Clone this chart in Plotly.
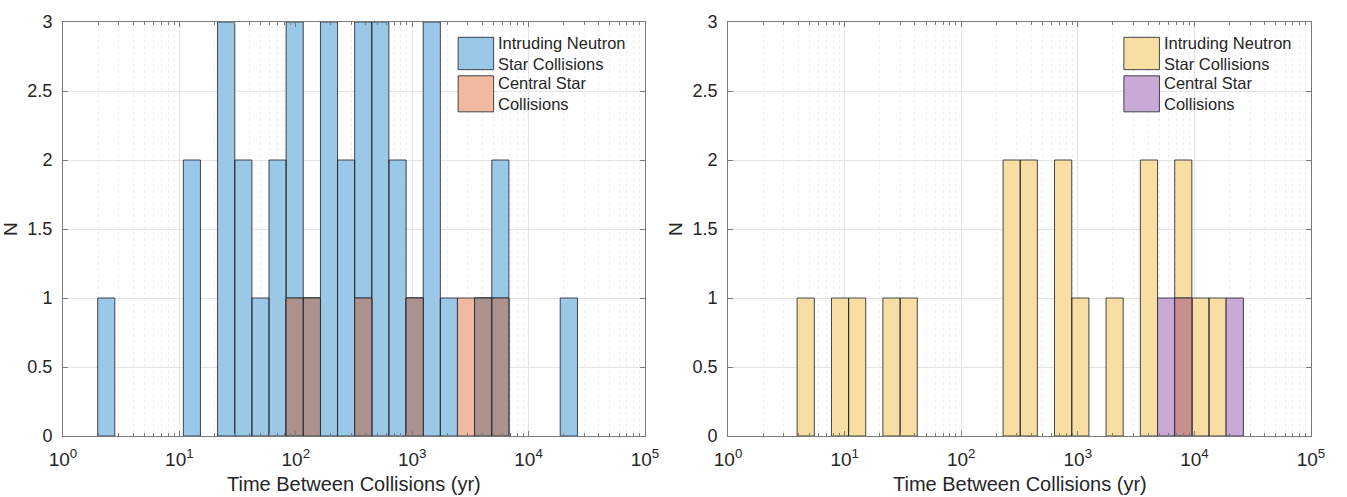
import plotly.graph_objects as go

# Histogram bin edges (log10 of time in yr), shared by both panels
BIN_EDGES_LOG10 = [0.298, 0.445, 0.592, 0.740, 0.887, 1.034, 1.181, 1.328, 1.476, 1.623,
                   1.770, 1.917, 2.064, 2.212, 2.359, 2.506, 2.653, 2.800, 2.948, 3.095,
                   3.242, 3.389, 3.536, 3.684, 3.831, 3.978, 4.125, 4.272, 4.420]

# Counts per bin (28 bins)
left_intruding = [1, 0, 0, 0, 0, 2, 0, 3, 2, 1, 2, 3, 1, 3, 2, 3, 3, 2, 1, 3, 1, 0, 1, 2, 0, 0, 0, 1]
left_central   = [0, 0, 0, 0, 0, 0, 0, 0, 0, 0, 0, 1, 1, 0, 0, 1, 0, 0, 1, 0, 0, 1, 1, 1, 0, 0, 0, 0]
right_intruding = [0, 0, 1, 0, 1, 1, 0, 1, 1, 0, 0, 0, 0, 0, 2, 2, 0, 2, 1, 0, 1, 0, 2, 0, 2, 1, 1, 0]
right_central   = [0, 0, 0, 0, 0, 0, 0, 0, 0, 0, 0, 0, 0, 0, 0, 0, 0, 0, 0, 0, 0, 0, 0, 1, 1, 0, 0, 1]

SERIES_NAMES = ["Intruding Neutron<br>Star Collisions", "Central Star<br>Collisions"]

X_TICK_VALUES = [1, 10, 100, 1000, 10000, 100000]
X_TICK_LABELS = ["10<sup>0</sup>", "10<sup>1</sup>", "10<sup>2</sup>",
                 "10<sup>3</sup>", "10<sup>4</sup>", "10<sup>5</sup>"]
Y_TICK_VALUES = [0, 0.5, 1, 1.5, 2, 2.5, 3]
Y_TICK_LABELS = ["0", "0.5", "1", "1.5", "2", "2.5", "3"]
X_TITLE = "Time Between Collisions (yr)"
Y_TITLE = "N"

# colours
BLUE = "#9cc8e7"
ORANGE = "#f1baa0"
BROWN = "#ab928c"
YELLOW = "#f8dea2"
PURPLE = "#c9aad7"
RED_OVERLAP = "#c98e90"
EDGE = "rgba(35,40,50,0.85)"
FONT = "Liberation Sans, Arial, Helvetica, sans-serif"
TXT = "#262626"

MINOR_TICKS = [m * 10 ** d for d in range(0, 5) for m in range(2, 10)]


def hist_trace(counts, fillcolor, xa, ya):
    xs, ys = [], []
    for k, c in enumerate(counts):
        if c > 0:
            x0 = 10 ** BIN_EDGES_LOG10[k]
            x1 = 10 ** BIN_EDGES_LOG10[k + 1]
            xs += [x0, x0, x1, x1, x0, None]
            ys += [0, c, c, 0, 0, None]
    return go.Scatter(x=xs, y=ys, mode="lines", fill="toself", fillcolor=fillcolor,
                      line=dict(color=EDGE, width=1), hoverinfo="skip",
                      showlegend=False, xaxis=xa, yaxis=ya)


fig = go.Figure()
panels = [
    (left_intruding, left_central, BLUE, ORANGE, BROWN, "x", "y"),
    (right_intruding, right_central, YELLOW, PURPLE, RED_OVERLAP, "x2", "y2"),
]
for a, b, ca, cb, cab, xa, ya in panels:
    overlap = [min(p, q) for p, q in zip(a, b)]
    fig.add_trace(hist_trace(a, ca, xa, ya))
    fig.add_trace(hist_trace(b, cb, xa, ya))
    fig.add_trace(hist_trace(overlap, cab, xa, ya))

axis_common = dict(showline=True, linecolor="#7a7a7a", linewidth=1, mirror="ticks",
                   ticks="inside", tickcolor="#7a7a7a", zeroline=False,
                   tickfont=dict(family=FONT, size=18, color=TXT),
                   gridcolor="#e4e4e4", gridwidth=1, showgrid=True)

xcommon = dict(axis_common, type="log", range=[0, 5], tickmode="array",
               tickvals=X_TICK_VALUES, ticktext=X_TICK_LABELS, ticklen=5,
               ticklabelstandoff=6, tickfont=dict(family=FONT, size=19, color=TXT),
               minor=dict(tickmode="array", tickvals=MINOR_TICKS, ticks="inside",
                          ticklen=3, tickcolor="#7a7a7a", showgrid=True,
                          gridcolor="#eeeeee", griddash="dot", gridwidth=1))
ycommon = dict(axis_common, range=[0, 3], tickmode="array", tickvals=Y_TICK_VALUES,
               ticktext=Y_TICK_LABELS, ticklen=5, ticklabelstandoff=6)

fig.update_layout(
    width=1347, height=497,
    margin=dict(l=63, r=36, t=13, b=61),
    paper_bgcolor="white", plot_bgcolor="white",
    xaxis=dict(xcommon, domain=[0, 0.4663], anchor="y"),
    yaxis=dict(ycommon, domain=[0, 1], anchor="x"),
    xaxis2=dict(xcommon, domain=[0.5329, 1], anchor="y2"),
    yaxis2=dict(ycommon, domain=[0, 1], anchor="x2"),
    showlegend=False,
)

annotations = []
shapes = []
legend_sets = [("x", "y", [BLUE, ORANGE]), ("x2", "y2", [YELLOW, PURPLE])]
patch_y = [(0.885, 0.963), (0.783, 0.870)]
for xa, ya, cols in legend_sets:
    for (y0, y1), col, name in zip(patch_y, cols, SERIES_NAMES):
        shapes.append(dict(type="rect", xref=f"{xa} domain", yref=f"{ya} domain",
                           x0=0.679, x1=0.740, y0=y0, y1=y1, fillcolor=col,
                           line=dict(color=EDGE, width=1)))
        annotations.append(dict(xref=f"{xa} domain", yref=f"{ya} domain", x=0.744,
                                y=(y0 + y1) / 2, xanchor="left", yanchor="middle",
                                text=name, showarrow=False, align="left",
                                font=dict(family=FONT, size=16.5, color=TXT)))
    annotations.append(dict(xref=f"{xa} domain", yref="paper", x=0.5, y=-0.116,
                            xanchor="center", yanchor="middle",
                            text=X_TITLE, showarrow=False,
                            font=dict(family=FONT, size=20, color=TXT)))
    annotations.append(dict(xref=f"{xa} domain", yref=f"{ya} domain", x=0, y=0.5,
                            xshift=-53, xanchor="center", yanchor="middle",
                            text=Y_TITLE, textangle=-90, showarrow=False,
                            font=dict(family=FONT, size=19, color=TXT)))

fig.update_layout(shapes=shapes, annotations=annotations)
fig.write_html("out.html")
